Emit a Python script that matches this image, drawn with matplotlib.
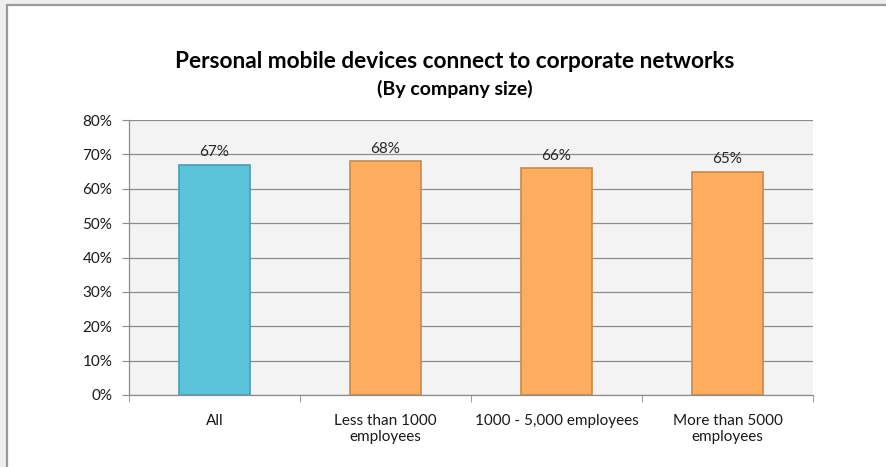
import matplotlib
matplotlib.use('Agg')
import matplotlib.pyplot as plt
from matplotlib.patches import Rectangle
from matplotlib.ticker import FuncFormatter, MultipleLocator

# survey share by company size
categories = ["All", "Less than 1000\nemployees", "1000 - 5,000 employees", "More than 5000\nemployees"]
shares = [67, 68, 66, 65]
bar_colors = ["#5bc3da", "#fdad5d", "#fdad5d", "#fdad5d"]
edge_colors = ["#4a9db2", "#c98a4c", "#c98a4c", "#c98a4c"]

W, H = 886, 467
plt.rcParams['font.family'] = ['Lato', 'DejaVu Sans']

fig = plt.figure(figsize=(W / 100, H / 100), dpi=100)
fig.patch.set_facecolor("#eeeeee")

# white chart card, cut off at the right and bottom edges
card = Rectangle((7 / W, -0.02), 1.0, 1.02 - 5 / H, transform=fig.transFigure,
                 facecolor="white", edgecolor="#9a9a9a", linewidth=1.6, zorder=-1)
fig.patches.append(card)

ax = fig.add_axes([129 / W, (H - 395) / H, (813 - 129) / W, (395 - 120) / H])
ax.set_zorder(2)
ax.set_facecolor("#f3f3f3")

x = range(len(categories))
bars = ax.bar(x, shares, width=0.42, color=bar_colors, edgecolor=edge_colors,
              linewidth=1.2, zorder=3)

for b, v in zip(bars, shares):
    ax.text(b.get_x() + b.get_width() / 2, v + 1.6, f"{v}%", ha="center", va="bottom",
            fontsize=11, color="#262626")

ax.set_ylim(0, 80)
ax.set_xlim(-0.5, len(categories) - 0.5)
ax.yaxis.set_major_locator(MultipleLocator(10))
ax.yaxis.set_major_formatter(FuncFormatter(lambda v, p: f"{v:.0f}%"))
ax.grid(axis="y", color="#8c8c8c", linewidth=0.9, zorder=0)

# category ticks sit on the boundaries between groups
ax.set_xticks(list(x))
ax.set_xticklabels(categories, fontsize=11, color="#1a1a1a", linespacing=1.15, va="top")
ax.tick_params(axis="x", length=0, pad=14)
ax.set_xticks([i - 0.5 for i in range(len(categories) + 1)], minor=True)
ax.tick_params(axis="x", which="minor", length=5, color="#8c8c8c")
ax.tick_params(axis="y", length=5, color="#8c8c8c", labelsize=11, labelcolor="#1a1a1a", pad=7)

for side in ["top", "right"]:
    ax.spines[side].set_visible(False)
for side in ["left", "bottom"]:
    ax.spines[side].set_color("#8c8c8c")
    ax.spines[side].set_linewidth(0.9)

fig.text(455 / W, 1 - 62 / H, "Personal mobile devices connect to corporate networks",
         ha="center", va="center", fontsize=16.3, fontweight="bold", color="#000000")
fig.text(455 / W, 1 - 89 / H, "(By company size)", ha="center", va="center",
         fontsize=14, fontweight="bold", color="#000000")

fig.savefig("out.png", dpi=100, facecolor=fig.get_facecolor())
